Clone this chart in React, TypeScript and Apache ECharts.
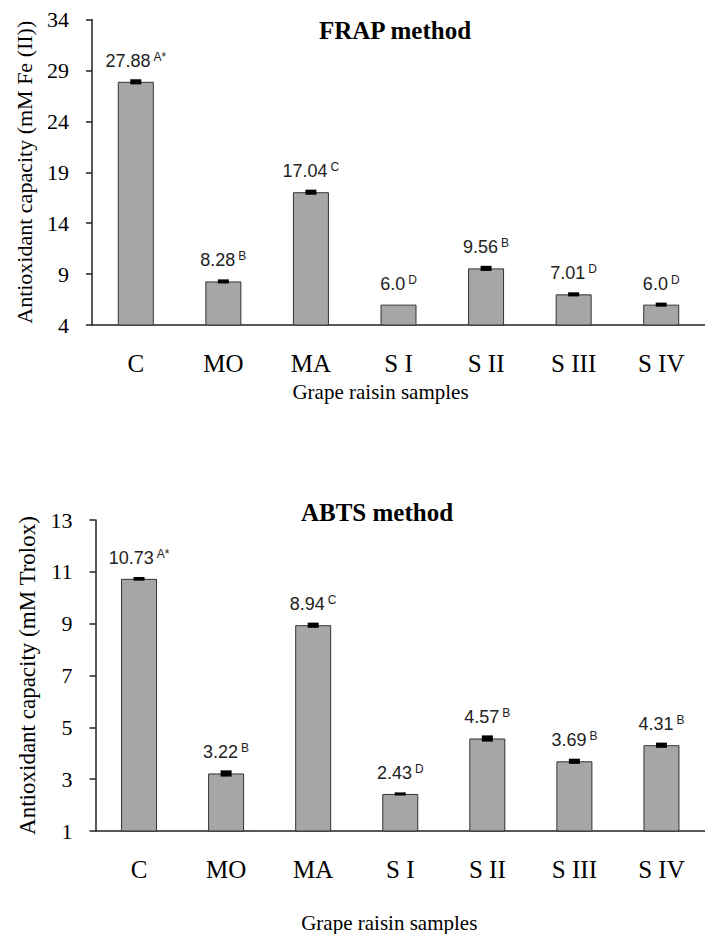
import React, { useEffect, useRef } from "react";
import * as echarts from "echarts";

const categories = ["C", "MO", "MA", "S I", "S II", "S III", "S IV"];

const frapValues = [27.88, 8.28, 17.04, 6.0, 9.56, 7.01, 6.0];
const frapLabels = ["27.88", "8.28", "17.04", "6.0", "9.56", "7.01", "6.0"];
const frapLetters = ["A*", "B", "C", "D", "B", "D", "D"];
const frapErrors = [0.25, 0.2, 0.25, 0, 0.25, 0.2, 0.2];

const abtsValues = [10.73, 3.22, 8.94, 2.43, 4.57, 3.69, 4.31];
const abtsLabels = ["10.73", "3.22", "8.94", "2.43", "4.57", "3.69", "4.31"];
const abtsLetters = ["A*", "B", "C", "D", "B", "B", "B"];
const abtsErrors = [0.07, 0.12, 0.1, 0.06, 0.12, 0.1, 0.1];

const frapAxis = { min: 4, max: 34, interval: 5 };
const abtsAxis = { min: 1, max: 13, interval: 2 };

const SERIF = '"Liberation Serif", "Times New Roman", serif';
const SANS = '"Liberation Sans", Arial, sans-serif';

function errorRender(params: any, api: any) {
  const i = api.value(0);
  const v = api.value(1);
  const e = api.value(2);
  if (!e) return { type: "group", children: [] };
  const top = api.coord([i, v + e]);
  const bot = api.coord([i, v - e]);
  const h = Math.max(bot[1] - top[1], 3);
  const cy = (top[1] + bot[1]) / 2;
  return {
    type: "rect",
    shape: { x: top[0] - 5.5, y: cy - h / 2, width: 11, height: h },
    style: { fill: "#000" },
  };
}

function makeYAxis(idx: number, cfg: any, name: string, fontSize: number) {
  return {
    type: "value",
    gridIndex: idx,
    min: cfg.min,
    max: cfg.max,
    interval: cfg.interval,
    name,
    nameLocation: "middle",
    nameGap: 57,
    nameRotate: 90,
    nameTextStyle: { fontFamily: SERIF, fontSize, color: "#000" },
    axisLine: { show: true, lineStyle: { color: "#222", width: 1.5 } },
    axisTick: { show: true, length: 6, lineStyle: { color: "#222", width: 1.5 } },
    axisLabel: { fontFamily: SERIF, fontSize: 22, color: "#000", margin: 23 },
    splitLine: { show: false },
  };
}

function makeXAxis(idx: number, nameGap: number, shift: number) {
  return {
    type: "category",
    gridIndex: idx,
    data: categories,
    name: "Grape raisin samples",
    nameLocation: "middle",
    nameGap,
    nameTextStyle: {
      fontFamily: SERIF,
      fontSize: 21,
      color: "#000",
      padding: [0, shift, 0, 0],
    },
    axisLine: { show: true, lineStyle: { color: "#222", width: 1.5 } },
    axisTick: { show: false },
    axisLabel: { fontFamily: SERIF, fontSize: 25, color: "#000", margin: 26 },
    splitLine: { show: false },
  };
}

function barSeries(idx: number, values: number[], labels: string[], letters: string[]) {
  return {
    type: "bar",
    xAxisIndex: idx,
    yAxisIndex: idx,
    data: values,
    barWidth: 36,
    itemStyle: { color: "#a6a6a6", borderColor: "#333", borderWidth: 1 },
    label: {
      show: true,
      position: "top",
      distance: 11,
      formatter: (p: any) => `{v|${labels[p.dataIndex]}}{s|${letters[p.dataIndex]}}`,
      rich: {
        v: { fontFamily: SANS, fontSize: 18, color: "#222", lineHeight: 20 },
        s: {
          fontFamily: SANS,
          fontSize: 12,
          color: "#222",
          verticalAlign: "top",
          lineHeight: 13,
          padding: [0, 0, 0, 3],
        },
      },
    },
  };
}

function errSeries(idx: number, values: number[], errs: number[]) {
  return {
    type: "custom",
    xAxisIndex: idx,
    yAxisIndex: idx,
    z: 5,
    data: values.map((v, i) => [i, v, errs[i]]),
    encode: { x: 0, y: 1 },
    renderItem: errorRender,
  };
}

export default function App() {
  const ref = useRef<HTMLDivElement>(null);
  useEffect(() => {
    if (!ref.current) return;
    const chart = echarts.init(ref.current, null, { renderer: "svg" });
    chart.setOption({
      animation: false,
      backgroundColor: "#fff",
      grid: [
        { left: 92, top: 19.5, height: 305.5, right: -15 },
        { left: 95.5, top: 520, height: 314, right: -18 },
      ],
      xAxis: [makeXAxis(0, 56, 36), makeXAxis(1, 81, 22)],
      yAxis: [
        makeYAxis(0, frapAxis, "Antioxidant capacity (mM Fe (II))", 22),
        makeYAxis(1, abtsAxis, "Antioxidant capacity (mM Trolox)", 23),
      ],
      graphic: [
        {
          type: "text",
          x: 395,
          y: 30,
          style: {
            text: "FRAP method",
            fontFamily: SERIF,
            fontSize: 25,
            fontWeight: "bold",
            fill: "#000",
            align: "center",
            verticalAlign: "middle",
          },
        },
        {
          type: "text",
          x: 377,
          y: 512,
          style: {
            text: "ABTS method",
            fontFamily: SERIF,
            fontSize: 25,
            fontWeight: "bold",
            fill: "#000",
            align: "center",
            verticalAlign: "middle",
          },
        },
      ],
      series: [
        barSeries(0, frapValues, frapLabels, frapLetters),
        errSeries(0, frapValues, frapErrors),
        barSeries(1, abtsValues, abtsLabels, abtsLetters),
        errSeries(1, abtsValues, abtsErrors),
      ],
    });
    return () => chart.dispose();
  }, []);
  return (
    <div
      ref={ref}
      style={{ position: "absolute", left: 0, top: 0, width: 705, height: 934, background: "#fff" }}
    />
  );
}
